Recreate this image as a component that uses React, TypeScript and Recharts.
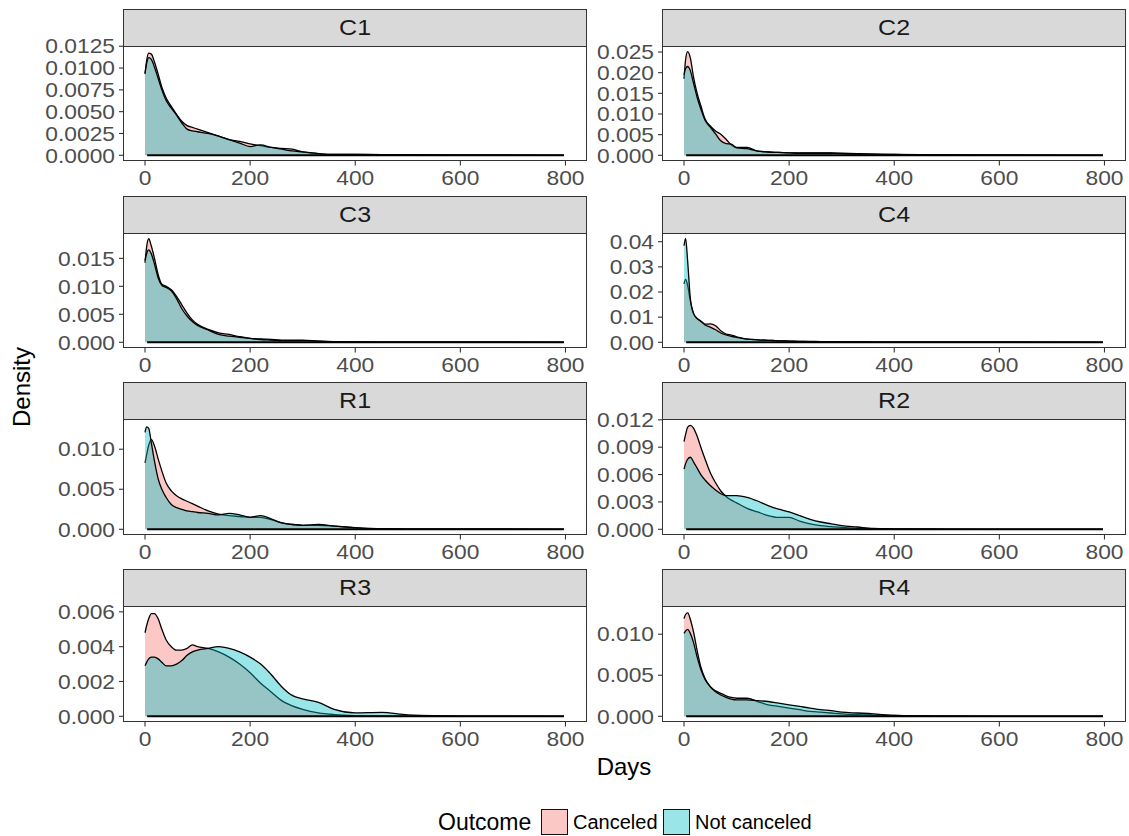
import React from "react";
import { AreaChart, Area, XAxis, YAxis, ReferenceLine } from "recharts";

// ---------- data ----------
const days = [0, 3, 7, 12, 18, 25, 32, 40, 50, 60, 70, 80, 90, 100, 120, 140, 160, 180, 200, 220, 240, 260, 280, 300, 330, 360, 400, 450, 500, 600, 797];

const c1Canceled = [0.0093, 0.0108, 0.0117, 0.0116, 0.0107, 0.0093, 0.0078, 0.0066, 0.0056, 0.0047, 0.0039, 0.0034, 0.0032, 0.003, 0.0026, 0.0022, 0.0018, 0.0016, 0.0013, 0.0011, 0.0009, 0.0008, 0.0007, 0.0004, 0.0002, 0.0001, 0.0001, 0.00008, 0.00006, 0.00002, 0];
const c1NotCanceled = [0.0094, 0.0105, 0.0112, 0.011, 0.0101, 0.0088, 0.0075, 0.0063, 0.0054, 0.0046, 0.0037, 0.003, 0.0028, 0.0027, 0.0025, 0.0022, 0.0018, 0.0014, 0.001, 0.0012, 0.0009, 0.0007, 0.0005, 0.0004, 0.0002, 0.0001, 0.0001, 0.00006, 0.00004, 0.00002, 0];

const c2Canceled = [0.0185, 0.0232, 0.0251, 0.0236, 0.019, 0.015, 0.012, 0.0088, 0.0071, 0.0059, 0.0051, 0.0039, 0.0025, 0.0019, 0.0019, 0.001, 0.0008, 0.0007, 0.0006, 0.0006, 0.0006, 0.0006, 0.0006, 0.0005, 0.0004, 0.0003, 0.0002, 0.00015, 0.0001, 0.00004, 0];
const c2NotCanceled = [0.0195, 0.021, 0.0215, 0.0205, 0.0175, 0.014, 0.0112, 0.0085, 0.0068, 0.0052, 0.0035, 0.0028, 0.0027, 0.0018, 0.0016, 0.001, 0.0008, 0.0007, 0.0006, 0.0005, 0.0005, 0.0005, 0.0005, 0.0004, 0.0003, 0.0003, 0.0002, 0.0001, 0.00008, 0.00003, 0];

const c3Canceled = [0.0142, 0.017, 0.0185, 0.0172, 0.015, 0.0121, 0.0104, 0.01, 0.0094, 0.0082, 0.0067, 0.0052, 0.004, 0.0032, 0.0023, 0.0017, 0.0014, 0.001, 0.0007, 0.0006, 0.0005, 0.0004, 0.0004, 0.0004, 0.0002, 0.0001, 0.00006, 0.00004, 0.00003, 0.00001, 0];
const c3NotCanceled = [0.0146, 0.0158, 0.0165, 0.0158, 0.014, 0.0115, 0.0102, 0.0098, 0.0092, 0.0078, 0.006, 0.0047, 0.0037, 0.003, 0.0022, 0.0014, 0.0011, 0.0009, 0.0007, 0.0005, 0.0004, 0.0003, 0.0003, 0.0003, 0.0002, 0.0001, 0.00006, 0.00004, 0.00002, 0.00001, 0];

const c4Canceled = [0.0232, 0.025, 0.0225, 0.0165, 0.0115, 0.0095, 0.0085, 0.0072, 0.0073, 0.0066, 0.0046, 0.0033, 0.0029, 0.0022, 0.0013, 0.001, 0.0008, 0.0006, 0.0005, 0.0004, 0.0004, 0.0003, 0.0003, 0.0002, 0.0002, 0.0001, 0.0001, 0.00008, 0.00006, 0.00002, 0];
const c4NotCanceled = [0.0384, 0.0413, 0.032, 0.0175, 0.0115, 0.0094, 0.0083, 0.0069, 0.006, 0.005, 0.0037, 0.0029, 0.0024, 0.002, 0.0013, 0.001, 0.0008, 0.0006, 0.0005, 0.0004, 0.0003, 0.0003, 0.0002, 0.0002, 0.0002, 0.0001, 0.0001, 0.00006, 0.00004, 0.00002, 0];

const r1Canceled = [0.0083, 0.0093, 0.0105, 0.0112, 0.0104, 0.0088, 0.0073, 0.0058, 0.0048, 0.0042, 0.0038, 0.0035, 0.0032, 0.0029, 0.0023, 0.0019, 0.0017, 0.0016, 0.0015, 0.0015, 0.0012, 0.0008, 0.0006, 0.0005, 0.0005, 0.0004, 0.00017, 0.00005, 0.00003, 0.00001, 0];
const r1NotCanceled = [0.0121, 0.0128, 0.0126, 0.0108, 0.0085, 0.0063, 0.005, 0.004, 0.0031, 0.0027, 0.0025, 0.0023, 0.0022, 0.0021, 0.002, 0.0018, 0.002, 0.0018, 0.0015, 0.0017, 0.0013, 0.0008, 0.0006, 0.0005, 0.0006, 0.0004, 0.0002, 0.00005, 0.00003, 0.00001, 0];

const r2Canceled = [0.0096, 0.0104, 0.0112, 0.0114, 0.0111, 0.0102, 0.009, 0.0077, 0.0062, 0.0051, 0.0042, 0.0036, 0.0032, 0.0029, 0.0023, 0.0019, 0.0015, 0.0013, 0.0013, 0.0009, 0.0006, 0.0004, 0.0003, 0.0002, 0.0001, 0.00005, 0.00002, 0.00001, 0, 0, 0];
const r2NotCanceled = [0.0066, 0.0072, 0.0077, 0.0079, 0.0074, 0.0067, 0.006, 0.0054, 0.0048, 0.0043, 0.0039, 0.0037, 0.0037, 0.0037, 0.0035, 0.0031, 0.0026, 0.0022, 0.0019, 0.0015, 0.0011, 0.0008, 0.0006, 0.0004, 0.00025, 0.0001, 0.00005, 0.00002, 0.00001, 0, 0];

const r3Canceled = [0.0048, 0.0052, 0.0056, 0.0059, 0.0059, 0.0056, 0.005, 0.0044, 0.004, 0.0038, 0.0038, 0.0039, 0.0041, 0.004, 0.0039, 0.0037, 0.0034, 0.003, 0.0025, 0.0019, 0.0014, 0.0009, 0.0006, 0.0004, 0.0002, 0.0001, 0.00004, 0.00002, 0.00001, 0, 0];
const r3NotCanceled = [0.0029, 0.0031, 0.0033, 0.0034, 0.0034, 0.0033, 0.0031, 0.0029, 0.0029, 0.003, 0.0032, 0.0035, 0.0037, 0.0038, 0.0039, 0.004, 0.0039, 0.0037, 0.0034, 0.003, 0.0024, 0.0017, 0.0012, 0.001, 0.0008, 0.0004, 0.0002, 0.00023, 0.00008, 0.00001, 0];

const r4Canceled = [0.0119, 0.0124, 0.0126, 0.0118, 0.0103, 0.008, 0.006, 0.0046, 0.0036, 0.0031, 0.0028, 0.0025, 0.0023, 0.0022, 0.0022, 0.0018, 0.0014, 0.0012, 0.001, 0.0008, 0.0006, 0.0005, 0.0004, 0.0003, 0.0002, 0.00015, 0.0001, 0.00004, 0.00002, 0, 0];
const r4NotCanceled = [0.0101, 0.0104, 0.0106, 0.0101, 0.009, 0.0072, 0.0057, 0.0045, 0.0036, 0.003, 0.0026, 0.0023, 0.0021, 0.002, 0.002, 0.0019, 0.0018, 0.0016, 0.0014, 0.0012, 0.001, 0.0008, 0.0007, 0.0005, 0.0004, 0.0003, 0.0001, 0.00005, 0.00002, 0, 0];

const panelNames = ["C1", "C2", "C3", "C4", "R1", "R2", "R3", "R4"];
const canceledSeries = [c1Canceled, c2Canceled, c3Canceled, c4Canceled, r1Canceled, r2Canceled, r3Canceled, r4Canceled];
const notCanceledSeries = [c1NotCanceled, c2NotCanceled, c3NotCanceled, c4NotCanceled, r1NotCanceled, r2NotCanceled, r3NotCanceled, r4NotCanceled];
// max density of each panel (sets the y range with ggplot's 5% expansion)
const panelMax = [0.01193, 0.0252, 0.0186, 0.0414, 0.013, 0.01141, 0.00598, 0.01268];

const yTicks = [
  [0, 0.0025, 0.005, 0.0075, 0.01, 0.0125],
  [0, 0.005, 0.01, 0.015, 0.02, 0.025],
  [0, 0.005, 0.01, 0.015],
  [0, 0.01, 0.02, 0.03, 0.04],
  [0, 0.005, 0.01],
  [0, 0.003, 0.006, 0.009, 0.012],
  [0, 0.002, 0.004, 0.006],
  [0, 0.005, 0.01],
];
const yTickLabels = [
  ["0.0000", "0.0025", "0.0050", "0.0075", "0.0100", "0.0125"],
  ["0.000", "0.005", "0.010", "0.015", "0.020", "0.025"],
  ["0.000", "0.005", "0.010", "0.015"],
  ["0.00", "0.01", "0.02", "0.03", "0.04"],
  ["0.000", "0.005", "0.010"],
  ["0.000", "0.003", "0.006", "0.009", "0.012"],
  ["0.000", "0.002", "0.004", "0.006"],
  ["0.000", "0.005", "0.010"],
];
const xTicks = [0, 200, 400, 600, 800];
const xTickLabels = ["0", "200", "400", "600", "800"];
const baselineRange = [4, 797];

const seriesNames = ["Canceled", "Not canceled"];
const seriesColors = ["#F8766D", "#00BFC4"];
const legendFills = ["#FCC8C5", "#99E5E7"];

// ---------- layout ----------
const FONT = "'Liberation Sans', Arial, Helvetica, sans-serif";
const COL_LEFT = [123.5, 662.5];
const PANEL_W = 462.5;
const ROW_TOP0 = 9.3;
const ROW_STEP = 186.8;
const STRIP_H = 37;
const PLOT_H = 114.5;
const YW = 112;
const XH = 40;
const MT = 14;
const STRETCH = 1.14;

function makeYTick(ticks: number[], labels: string[]) {
  return (props: any) => {
    const { x, y, payload } = props;
    const i = ticks.findIndex((t) => Math.abs(t - payload.value) < 1e-12);
    return (
      <g transform={`translate(${x},${y})`}>
        <text
          transform={`scale(${STRETCH},1)`}
          textAnchor="end"
          dy="0.36em"
          fontSize={20}
          fontFamily={FONT}
          fill="#4D4D4D"
        >
          {i >= 0 ? labels[i] : ""}
        </text>
      </g>
    );
  };
}

const XTick = (props: any) => {
  const { x, y, payload } = props;
  const i = xTicks.indexOf(payload.value);
  return (
    <g transform={`translate(${x},${y})`}>
      <text
        transform={`scale(${STRETCH},1)`}
        textAnchor="middle"
        dy={18}
        fontSize={20}
        fontFamily={FONT}
        fill="#4D4D4D"
      >
        {i >= 0 ? xTickLabels[i] : ""}
      </text>
    </g>
  );
};

function Panel({ idx }: { idx: number }) {
  const col = idx % 2;
  const row = Math.floor(idx / 2);
  const left = COL_LEFT[col];
  const top = ROW_TOP0 + row * ROW_STEP;
  const plotTop = top + STRIP_H;
  const data = days.map((d, i) => ({
    x: d,
    canceled: canceledSeries[idx][i],
    notCanceled: notCanceledSeries[idx][i],
  }));
  const M = panelMax[idx];
  return (
    <>
      {/* strip */}
      <div
        style={{
          position: "absolute",
          left: left - 0.5,
          top: top - 0.5,
          width: PANEL_W + 1,
          height: STRIP_H + 1,
          boxSizing: "border-box",
          border: "1.1px solid #333333",
          background: "#D9D9D9",
          display: "flex",
          alignItems: "center",
          justifyContent: "center",
        }}
      >
        <span
          style={{
            display: "inline-block",
            fontFamily: FONT,
            fontSize: 22,
            color: "#1A1A1A",
            transform: `scaleX(${STRETCH})`,
            lineHeight: 1,
          }}
        >
          {panelNames[idx]}
        </span>
      </div>
      <div
        style={{
          position: "absolute",
          left: left - YW,
          top: plotTop - MT,
          width: YW + PANEL_W,
          height: PLOT_H + XH + MT,
        }}
      >
        <AreaChart
          width={YW + PANEL_W}
          height={PLOT_H + XH + MT}
          data={data}
          margin={{ top: MT, right: 0, bottom: 0, left: 0 }}
          style={{ overflow: "visible" }}
        >
          <XAxis
            dataKey="x"
            type="number"
            domain={[-40, 840]}
            allowDataOverflow
            ticks={xTicks}
            interval={0}
            height={XH}
            axisLine={false}
            tickLine={{ stroke: "#333333", strokeWidth: 1.1 }}
            tickSize={5}
            tickMargin={2}
            tick={XTick}
          />
          <YAxis
            type="number"
            domain={[-0.05 * M, 1.05 * M]}
            allowDataOverflow
            ticks={yTicks[idx]}
            interval={0}
            width={YW}
            axisLine={false}
            tickLine={{ stroke: "#333333", strokeWidth: 1.1 }}
            tickSize={5}
            tickMargin={4}
            tick={makeYTick(yTicks[idx], yTickLabels[idx])}
          />
          <Area
            type="monotone"
            dataKey="canceled"
            name={seriesNames[0]}
            stroke="#000000"
            strokeWidth={1.3}
            fill={seriesColors[0]}
            fillOpacity={0.4}
            dot={false}
            activeDot={false}
            baseValue={0}
            isAnimationActive={false}
          />
          <Area
            type="monotone"
            dataKey="notCanceled"
            name={seriesNames[1]}
            stroke="#000000"
            strokeWidth={1.3}
            fill={seriesColors[1]}
            fillOpacity={0.4}
            dot={false}
            activeDot={false}
            baseValue={0}
            isAnimationActive={false}
          />
          <ReferenceLine
            segment={[
              { x: baselineRange[0], y: 0 },
              { x: baselineRange[1], y: 0 },
            ]}
            stroke="#000000"
            strokeWidth={2}
            ifOverflow="visible"
          />
        </AreaChart>
      </div>
      {/* panel border */}
      <div
        style={{
          position: "absolute",
          left: left - 0.5,
          top: plotTop - 0.5,
          width: PANEL_W + 1,
          height: PLOT_H + 1,
          boxSizing: "border-box",
          border: "1.1px solid #333333",
          pointerEvents: "none",
        }}
      />
    </>
  );
}

export default function App() {
  return (
    <div
      style={{
        position: "absolute",
        left: 0,
        top: 0,
        width: 1129,
        height: 836,
        background: "#FFFFFF",
        overflow: "hidden",
        fontFamily: FONT,
      }}
    >
      {panelNames.map((_, i) => (
        <Panel key={i} idx={i} />
      ))}
      {/* y axis title */}
      <div
        style={{
          position: "absolute",
          left: 22,
          top: 387,
          transform: "translate(-50%,-50%) rotate(-90deg)",
          fontSize: 24,
          color: "#000",
          whiteSpace: "nowrap",
          lineHeight: 1,
        }}
      >
        Density
      </div>
      {/* x axis title */}
      <div
        style={{
          position: "absolute",
          left: 624,
          top: 767,
          transform: "translate(-50%,-50%)",
          fontSize: 24,
          color: "#000",
          whiteSpace: "nowrap",
          lineHeight: 1,
        }}
      >
        Days
      </div>
      {/* legend */}
      <div style={{ position: "absolute", left: 438, top: 822, transform: "translateY(-50%)", fontSize: 23, lineHeight: 1, color: "#000" }}>
        Outcome
      </div>
      <div style={{ position: "absolute", left: 541, top: 809, width: 27, height: 26, boxSizing: "border-box", border: "1.2px solid #111", background: legendFills[0] }} />
      <div style={{ position: "absolute", left: 573, top: 822, transform: "translateY(-50%)", fontSize: 20, lineHeight: 1, color: "#000" }}>
        {seriesNames[0]}
      </div>
      <div style={{ position: "absolute", left: 662.5, top: 809, width: 27, height: 26, boxSizing: "border-box", border: "1.2px solid #111", background: legendFills[1] }} />
      <div style={{ position: "absolute", left: 695, top: 822, transform: "translateY(-50%)", fontSize: 20, lineHeight: 1, color: "#000" }}>
        {seriesNames[1]}
      </div>
    </div>
  );
}
